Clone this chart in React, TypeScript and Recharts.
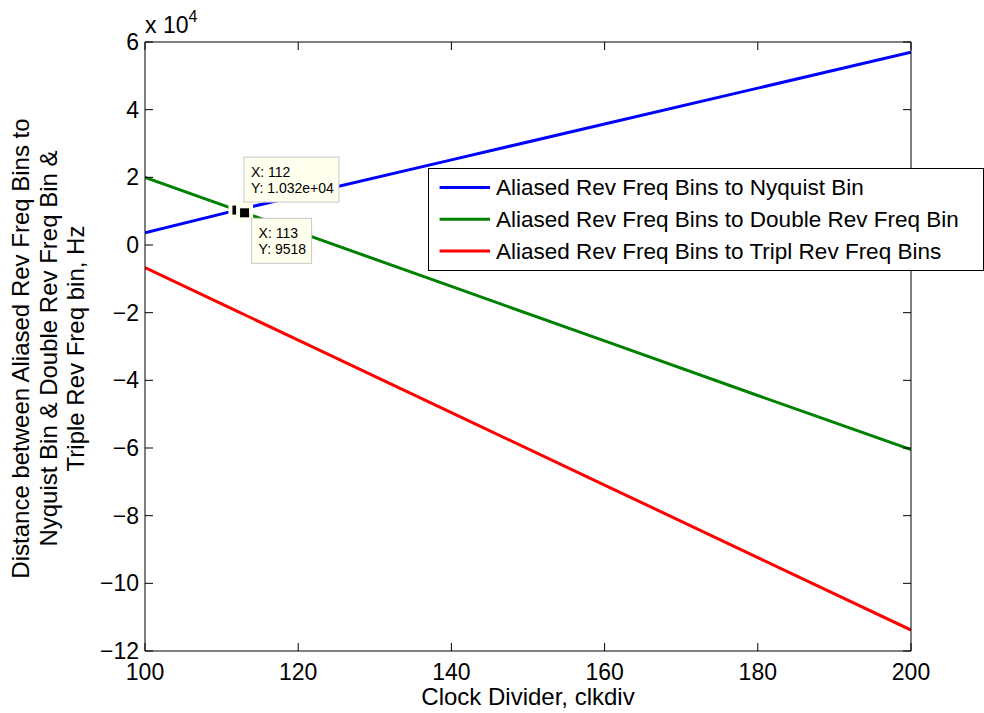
import { Label, Legend, Line, LineChart, ReferenceDot, XAxis, YAxis } from 'recharts';

const clkdiv = [100, 112, 113, 120, 140, 160, 180, 200];
const nyquistDist = [3600, 10320, 10850, 14560, 25160, 35760, 46360, 57000];
const doubleDist = [20000, 10330, 9518, 3880, -12240, -28360, -44480, -60500];
const tripleDist = [-6700, -19550, -20620, -28120, -49540, -70960, -92380, -113800];

const seriesKeys = ['nyquist', 'double', 'triple'];
const seriesNames = [
  'Aliased Rev Freq Bins to Nyquist Bin',
  'Aliased Rev Freq Bins to Double Rev Freq Bin',
  'Aliased Rev Freq Bins to Tripl Rev Freq Bins',
];
const seriesColors = ['#0000FF', '#008000', '#FF0000'];

const xTicks = [100, 120, 140, 160, 180, 200];
const yTicks = [-120000, -100000, -80000, -60000, -40000, -20000, 0, 20000, 40000, 60000];
const xLabel = 'Clock Divider, clkdiv';
const yLabelLines = [
  'Distance between Aliased Rev Freq Bins to',
  'Nyquist Bin & Double Rev Freq Bin &',
  'Triple Rev Freq bin, Hz',
];

// data tips: first on the Nyquist curve, second on the Double curve
const tipX = [112, 113];
const tipY = [10320, 9518];
const tipSeries = ['nyquist', 'double'];

const data = clkdiv.map((x, i) => ({
  x,
  nyquist: nyquistDist[i],
  double: doubleDist[i],
  triple: tripleDist[i],
}));

const FONT = '"Liberation Sans", Arial, Helvetica, sans-serif';
const TICK_LEN = 8;

const fmtY = (v: number) => {
  const n = v / 10000;
  return n < 0 ? `\u2212${Math.abs(n)}` : `${n}`;
};

const fmtTip = (v: number) => {
  if (Math.abs(v) >= 10000) {
    const [m, e] = v.toExponential(3).split('e');
    const sign = e[0] === '-' ? '-' : '+';
    const digits = e.replace(/[+-]/, '').padStart(2, '0');
    return `${m}e${sign}${digits}`;
  }
  return `${v}`;
};

// tickSize=1, tickLine off: label sits at axis - 1 - tickMargin
function LeftTick({ x, y, payload }: any) {
  const ax = x + 6;
  return (
    <g>
      <line x1={ax} y1={y} x2={ax + TICK_LEN} y2={y} stroke="#000" />
      <text x={x} y={y} dy="0.35em" textAnchor="end" fontSize={23} fill="#000" fontFamily={FONT}>
        {fmtY(payload.value)}
      </text>
    </g>
  );
}

function RightTick({ x, y }: any) {
  const ax = x - 1;
  return <line x1={ax} y1={y} x2={ax - TICK_LEN} y2={y} stroke="#000" />;
}

function BottomTick({ x, y, payload }: any) {
  const ay = y - 13;
  return (
    <g>
      <line x1={x} y1={ay} x2={x} y2={ay - TICK_LEN} stroke="#000" />
      <text x={x} y={y} dy="0.71em" textAnchor="middle" fontSize={23} fill="#000" fontFamily={FONT}>
        {payload.value}
      </text>
    </g>
  );
}

function TopTick({ x, y }: any) {
  const ay = y + 1;
  return <line x1={x} y1={ay} x2={x} y2={ay + TICK_LEN} stroke="#000" />;
}

function DataTip({ cx, cy, index }: any) {
  const below = index === 1;
  const lines = [`X: ${tipX[index]}`, `Y: ${fmtTip(tipY[index])}`];
  const boxW = index === 0 ? 95 : 60;
  const bx = cx + 7;
  const by = below ? cy + 5.5 : cy - 53;
  return (
    <g>
      <rect x={cx - 8.5} y={cy - 8.5} width={17} height={17} fill="#FFFFEE" />
      <rect x={cx - 4.5} y={cy - 4.5} width={9} height={9} fill="#000" />
      <rect x={bx} y={by} width={boxW} height={45} fill="#FFFFEE" stroke="#C8C8C8" />
      {lines.map((t, i) => (
        <text key={i} x={bx + 7} y={by + 19.5 + i * 16} fontSize={14} fill="#000" fontFamily={FONT}>
          {t}
        </text>
      ))}
    </g>
  );
}

function MatlabLegend({ payload }: any) {
  const items = [...(payload ?? [])].sort(
    (a: any, b: any) => seriesKeys.indexOf(a.dataKey) - seriesKeys.indexOf(b.dataKey),
  );
  return (
    <svg width={556} height={103} style={{ display: 'block' }}>
      <rect x={0.5} y={0.5} width={555} height={102} fill="#fff" stroke="#000" />
      {items.map((p: any, i: number) => {
        const cy = 19.5 + i * 31.7;
        return (
          <g key={p.dataKey}>
            <line x1={11.6} x2={62} y1={cy} y2={cy} stroke={p.color} strokeWidth={3} />
            <text x={68} y={cy} dy="0.35em" fontSize={22.5} fill="#000" fontFamily={FONT}>
              {p.value}
            </text>
          </g>
        );
      })}
    </svg>
  );
}

export default function App() {
  return (
    <div style={{ position: 'absolute', left: 0, top: 0, background: '#fff', fontFamily: FONT }}>
      <LineChart width={984} height={713} data={data} margin={{ top: 41, right: 72, bottom: 0, left: 0 }}>
        <XAxis
          dataKey="x"
          type="number"
          domain={[100, 200]}
          ticks={xTicks}
          interval={0}
          allowDataOverflow
          height={62}
          tickSize={1}
          tickLine={false}
          tickMargin={12}
          tick={BottomTick}
          axisLine={{ stroke: '#000' }}
        >
          <Label
            content={({ viewBox }: any) => (
              <text
                x={viewBox.x + viewBox.width / 2}
                y={viewBox.y + 54}
                textAnchor="middle"
                fontSize={24}
                fill="#000"
                fontFamily={FONT}
              >
                {xLabel}
              </text>
            )}
          />
        </XAxis>
        <XAxis
          xAxisId="top"
          orientation="top"
          dataKey="x"
          type="number"
          domain={[100, 200]}
          ticks={xTicks}
          interval={0}
          allowDataOverflow
          height={1}
          tickSize={1}
          tickLine={false}
          tickMargin={0}
          tick={TopTick}
          axisLine={{ stroke: '#000' }}
        >
          <Label
            content={({ viewBox }: any) => (
              <text x={viewBox.x} y={viewBox.y + viewBox.height - 9} fontSize={23} fill="#000" fontFamily={FONT}>
                x 10
                <tspan dy={-11} fontSize={16}>
                  4
                </tspan>
              </text>
            )}
          />
        </XAxis>
        <YAxis
          type="number"
          domain={[-120000, 60000]}
          ticks={yTicks}
          interval={0}
          allowDataOverflow
          width={145}
          tickSize={1}
          tickLine={false}
          tickMargin={5}
          tick={LeftTick}
          axisLine={{ stroke: '#000' }}
        >
          <Label
            content={({ viewBox }: any) => {
              const cy = viewBox.y + viewBox.height / 2 + 2;
              return (
                <g>
                  {yLabelLines.map((t, i) => {
                    const bx = 29 + i * 27.5;
                    return (
                      <text
                        key={i}
                        x={bx}
                        y={cy}
                        transform={`rotate(-90, ${bx}, ${cy})`}
                        textAnchor="middle"
                        fontSize={24}
                        fill="#000"
                        fontFamily={FONT}
                      >
                        {t}
                      </text>
                    );
                  })}
                </g>
              );
            }}
          />
        </YAxis>
        <YAxis
          yAxisId="right"
          orientation="right"
          type="number"
          domain={[-120000, 60000]}
          ticks={yTicks}
          interval={0}
          allowDataOverflow
          width={1}
          tickSize={1}
          tickLine={false}
          tickMargin={0}
          tick={RightTick}
          axisLine={{ stroke: '#000' }}
        />
        {seriesKeys.map((k, i) => (
          <Line
            key={k}
            type="linear"
            dataKey={k}
            name={seriesNames[i]}
            stroke={seriesColors[i]}
            strokeWidth={3}
            dot={false}
            isAnimationActive={false}
          />
        ))}
        {tipX.map((x, i) => (
          <ReferenceDot
            key={tipSeries[i]}
            x={x}
            y={tipY[i]}
            r={4}
            ifOverflow="visible"
            shape={(p: any) => <DataTip cx={p.cx} cy={p.cy} index={i} />}
          />
        ))}
        <Legend
          layout="vertical"
          align="center"
          verticalAlign="middle"
          wrapperStyle={{ left: 428, top: 167.5, width: 556, height: 103 }}
          content={MatlabLegend}
        />
      </LineChart>
    </div>
  );
}
